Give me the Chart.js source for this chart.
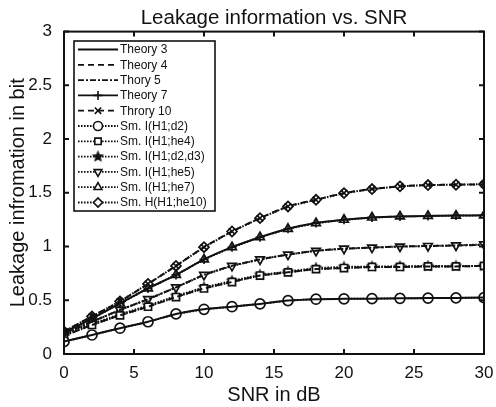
<!DOCTYPE html>
<html><head><meta charset="utf-8">
<script src="https://cdn.jsdelivr.net/npm/chart.js@4/dist/chart.umd.min.js"></script>
<style>html,body{margin:0;padding:0;background:#fff}#wrap{width:496px;height:407px}</style>
</head><body><div id="wrap"><canvas id="c" width="496" height="407"></canvas></div>
<script>
const snr = [0,2,4,6,8,10,12,14,16,18,20,22,24,26,28,30];
const xTickValues = [0,5,10,15,20,25,30];
const xTickLabels = ['0','5','10','15','20','25','30'];
const yTickValues = [0,0.5,1,1.5,2,2.5,3];
const yTickLabels = ['0','0.5','1','1.5','2','2.5','3'];

const theory3 = [0.115,0.177,0.24,0.30,0.373,0.416,0.44,0.466,0.497,0.51,0.513,0.515,0.518,0.52,0.522,0.525];
const theory4 = [0.17,0.27,0.36,0.44,0.53,0.61,0.67,0.73,0.76,0.79,0.80,0.81,0.81,0.815,0.815,0.82];
const thory5  = [0.19,0.30,0.41,0.51,0.62,0.736,0.82,0.88,0.925,0.96,0.98,0.99,1.0,1.005,1.01,1.015];
const theory7 = [0.2,0.33,0.47,0.61,0.736,0.88,0.994,1.087,1.165,1.218,1.249,1.27,1.28,1.285,1.288,1.29];
const throry10= [0.21,0.35,0.49,0.652,0.82,0.994,1.14,1.264,1.373,1.435,1.497,1.535,1.56,1.572,1.575,1.58];

const smD2   = [0.115,0.177,0.24,0.30,0.373,0.416,0.44,0.466,0.497,0.51,0.513,0.515,0.518,0.52,0.522,0.525];
const smHe4  = [0.17,0.27,0.36,0.44,0.53,0.61,0.67,0.73,0.76,0.79,0.80,0.81,0.81,0.815,0.815,0.82];
const smD2d3 = [0.18,0.28,0.37,0.45,0.54,0.62,0.68,0.736,0.767,0.80,0.81,0.814,0.816,0.818,0.82,0.82];
const smHe5  = [0.19,0.30,0.41,0.51,0.62,0.736,0.82,0.88,0.925,0.96,0.98,0.99,1.0,1.005,1.01,1.02];
const smHe7  = [0.2,0.33,0.47,0.61,0.736,0.88,0.994,1.087,1.165,1.218,1.249,1.27,1.28,1.285,1.288,1.29];
const smHe10 = [0.21,0.35,0.49,0.652,0.82,0.994,1.14,1.264,1.373,1.435,1.497,1.535,1.56,1.572,1.575,1.58];

const labels = ['Theory 3','Theory 4','Thory 5','Theory 7','Throry 10',
  'Sm. I(H1;d2)','Sm. I(H1;he4)','Sm. I(H1;d2,d3)','Sm. I(H1;he5)','Sm. I(H1;he7)','Sm. H(H1;he10)'];

function makeStar(r){
  const c=document.createElement('canvas'); const s=Math.ceil(r*2+2); c.width=s;c.height=s;
  const g=c.getContext('2d'); g.fillStyle='#111'; g.beginPath();
  for(let i=0;i<10;i++){const a=-Math.PI/2+i*Math.PI/5; const rr=i%2?r*0.45:r;
    g.lineTo(s/2+rr*Math.cos(a), s/2+rr*Math.sin(a));}
  g.closePath(); g.fill(); return c;
}
const starImg = makeStar(6.5);

const K='#111';
function pts(arr){return snr.map((x,i)=>({x:x,y:arr[i]}));}
function theoryDs(label,arr,dash,ps){
  return {label,data:pts(arr),borderColor:K,backgroundColor:K,borderWidth:2,borderDash:dash,
    pointStyle:ps||false,pointRadius:ps?4.5:0,pointBorderWidth:1.6,fill:false,tension:0.3};
}
function smDs(label,arr,ps,fillc,rot){
  return {label,data:pts(arr),borderColor:K,backgroundColor:fillc,borderWidth:2,borderDash:[1.6,1.4],
    pointStyle:ps,pointRotation:rot||0,pointRadius:5,pointBorderWidth:1.7,pointBorderColor:K,
    pointBackgroundColor:fillc,fill:false,tension:0};
}
const datasets=[
  theoryDs(labels[0],theory3,[]),
  theoryDs(labels[1],theory4,[6,4]),
  theoryDs(labels[2],thory5,[6,2,2,2]),
  theoryDs(labels[3],theory7,[], 'cross'),
  theoryDs(labels[4],throry10,[6,4],'crossRot'),
  smDs(labels[5],smD2,'circle','#fff'),
  smDs(labels[6],smHe4,'rect','#fff'),
  smDs(labels[7],smD2d3,starImg,'#111'),
  smDs(labels[8],smHe5,'triangle','#fff',180),
  smDs(labels[9],smHe7,'triangle','#fff'),
  smDs(labels[10],smHe10,'rectRot','#fff'),
];

const FONT='"Liberation Sans", Arial, sans-serif';

const framePlugin={
  id:'frame',
  afterDraw(chart){
    const {ctx,chartArea:a,scales:{x,y}}=chart;
    ctx.save();
    ctx.strokeStyle='#111'; ctx.lineWidth=2;
    ctx.strokeRect(a.left,a.top,a.right-a.left,a.bottom-a.top);
    const L=5;
    ctx.beginPath();
    xTickValues.forEach(v=>{const px=x.getPixelForValue(v);
      ctx.moveTo(px,a.bottom);ctx.lineTo(px,a.bottom-L);ctx.moveTo(px,a.top);ctx.lineTo(px,a.top+L);});
    yTickValues.forEach(v=>{const py=y.getPixelForValue(v);
      ctx.moveTo(a.left,py);ctx.lineTo(a.left+L,py);ctx.moveTo(a.right,py);ctx.lineTo(a.right-L,py);});
    ctx.stroke();
    // legend
    const bx=74,by=41,bw=141,bh=170;
    ctx.fillStyle='#fff'; ctx.fillRect(bx,by,bw,bh);
    ctx.lineWidth=1.6; ctx.strokeStyle='#111'; ctx.strokeRect(bx,by,bw,bh);
    ctx.font='12px '+FONT; ctx.textBaseline='middle'; ctx.textAlign='left';
    chart.data.datasets.forEach((ds,i)=>{
      const yy=49.5+i*15.3;
      ctx.save();
      ctx.strokeStyle=K; ctx.lineWidth=1.8; ctx.setLineDash(ds.borderDash||[]);
      ctx.beginPath(); ctx.moveTo(78,yy); ctx.lineTo(118,yy); ctx.stroke();
      ctx.setLineDash([]);
      if(ds.pointStyle){
        ctx.fillStyle=ds.pointBackgroundColor||K; ctx.strokeStyle=K; ctx.lineWidth=1.6;
        Chart.helpers.drawPoint(ctx,{pointStyle:ds.pointStyle,rotation:ds.pointRotation||0,radius:4.5,borderWidth:1.6},98,yy);
      }
      ctx.restore();
      ctx.fillStyle='#111'; ctx.fillText(ds.label,120,yy+0.5);
    });
    ctx.restore();
  }
};

new Chart(document.getElementById('c'),{
  type:'line',
  data:{datasets},
  options:{
    responsive:false,animation:false,
    layout:{padding:{left:0,right:12,top:0,bottom:0}},
    plugins:{
      legend:{display:false},tooltip:{enabled:false},
      title:{display:true,fullSize:false,text:'Leakage information vs. SNR',color:'#111',
        font:{family:FONT,size:20.5,weight:'normal',lineHeight:1.2},padding:{top:6,bottom:1}}
    },
    scales:{
      x:{type:'linear',min:0,max:30,
        afterBuildTicks(s){s.ticks=xTickValues.map(v=>({value:v}));},
        afterFit(s){s.height=53;s.paddingLeft=0;s.paddingRight=0;},
        grid:{display:false,drawTicks:false},border:{display:false},
        ticks:{color:'#111',font:{family:FONT,size:17},padding:9,maxRotation:0,
          callback:(v,i)=>xTickLabels[i]},
        title:{display:true,text:'SNR in dB',color:'#111',font:{family:FONT,size:20,lineHeight:1.2},padding:{top:0,bottom:0}}},
      y:{min:0,max:3,
        afterBuildTicks(s){s.ticks=yTickValues.map(v=>({value:v}));},
        afterFit(s){s.width=64;},
        grid:{display:false,drawTicks:false},border:{display:false},
        ticks:{color:'#111',font:{family:FONT,size:17},padding:12,
          callback:(v,i)=>yTickLabels[i]},
        title:{display:true,text:'Leakage infromation in bit',color:'#111',font:{family:FONT,size:20,lineHeight:1.2},padding:{top:6,bottom:0}}}
    }
  },
  plugins:[framePlugin]
});
</script></body></html>
